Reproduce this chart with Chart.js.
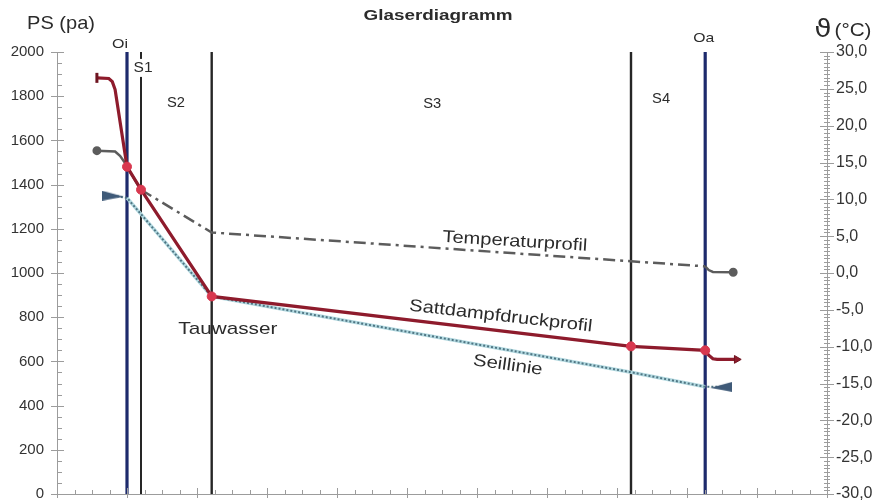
<!DOCTYPE html>
<html>
<head>
<meta charset="utf-8">
<script src="https://cdn.jsdelivr.net/npm/chart.js@4.4.1/dist/chart.umd.min.js"></script>
<style>
  html, body { margin: 0; padding: 0; background: #fff; }
  #wrap { width: 887px; height: 502px; position: relative; }
</style>
</head>
<body>
<div id="wrap"><canvas id="chart"></canvas></div>
<script>
// --- data ---
// layer boundaries: Oi, S1|S2, S2|S3, S3|S4, Oa
const layerX = [1.0, 1.2, 2.21, 8.2, 9.26];
const layerKind = ['surface', 'joint', 'joint', 'joint', 'surface'];

// Sattdampfdruckprofil (Pa)
const satX  = [0.57, 0.74, 0.79, 0.83, 1.0, 1.2, 2.21, 8.2, 9.26, 9.31, 9.37, 9.43, 9.71];
const satPa = [1883, 1880, 1866, 1830, 1481, 1377, 894, 668, 650, 628, 612, 609, 609];

// Temperaturprofil (°C, right axis)
const tempX = [0.57, 0.83, 0.9, 0.96, 1.0, 1.2, 2.21, 9.26, 9.31, 9.37, 9.66];
const tempC = [16.6, 16.5, 15.9, 15.1, 14.4, 11.3, 5.5, 0.9, 0.4, 0.15, 0.1];

// Seillinie / Partialdruck (Pa)
const sdX  = [0.8, 1.0, 2.21, 8.2, 9.26, 9.49];
const sdPa = [1350, 1340, 894, 551, 485, 485];

// axis ticks
const paTicks = { min: 0, max: 2000, step: 200, minor: 50 };
const tTicks = { min: -30, max: 30, step: 5, minor: 0.5 };
const xTicks = { min: 0, max: 11, step: 1, minor: 0.25 };

const FONT = "'Liberation Sans', Arial, sans-serif";

const pts = (xs, ys) => xs.map((x, i) => ({ x: x, y: ys[i] }));

// little wedge markers for the Seillinie ends
function wedge(dir) {
    const c = document.createElement('canvas');
    c.width = 22; c.height = 10;
    const g = c.getContext('2d');
    g.fillStyle = '#3f5a78';
    g.beginPath();
    if (dir > 0) { g.moveTo(0, 0); g.lineTo(22, 6); g.lineTo(0, 10); }
    else { g.moveTo(22, 0); g.lineTo(0, 6); g.lineTo(22, 10); }
    g.closePath();
    g.fill();
    return c;
}
const wedgeRight = wedge(1);
const wedgeLeft = wedge(-1);

// --- datasets ---
const datasets = [];

datasets.push({
    label: 'Sattdampfdruckprofil',
    data: pts(satX, satPa),
    yAxisID: 'y',
    borderColor: '#8e1b2c',
    borderWidth: 3.2,
    pointStyle: ctx => ctx.dataIndex === 0 ? 'line' : (ctx.dataIndex === satX.length - 1 ? 'triangle' : 'circle'),
    rotation: 90,
    pointRadius: ctx => {
        const i = ctx.dataIndex;
        if (i === 0) return 5;
        if (i === satX.length - 1) return 4.5;
        return layerX.includes(satX[i]) ? 4.5 : 0;
    },
    pointBackgroundColor: ctx => (ctx.dataIndex === 0 || ctx.dataIndex === satX.length - 1) ? '#8e1b2c' : '#d8384f',
    pointBorderColor: ctx => (ctx.dataIndex === 0 || ctx.dataIndex === satX.length - 1) ? '#6e1420' : '#d8384f',
    pointBorderWidth: ctx => ctx.dataIndex === 0 ? 3 : 1,
    order: 1
});

datasets.push({
    label: 'Temperaturprofil',
    data: pts(tempX, tempC),
    yAxisID: 'y2',
    borderColor: '#5c5c5c',
    borderWidth: 2.5,
    segment: {
        borderDash: ctx => (ctx.p0.parsed.x >= layerX[1] && ctx.p1.parsed.x <= layerX[4]) ? [12, 5, 3, 5] : undefined
    },
    pointRadius: ctx => (ctx.dataIndex === 0 || ctx.dataIndex === tempX.length - 1) ? 3.2 : 0,
    pointBackgroundColor: '#5c5c5c',
    pointBorderColor: '#5c5c5c',
    order: 3
});

// Seillinie: light underlay + dotted line on top
datasets.push({
    label: 'Seillinie',
    data: pts(sdX, sdPa),
    yAxisID: 'y',
    borderColor: '#4f7583',
    borderWidth: 2,
    borderDash: [2, 2],
    pointStyle: ctx => ctx.dataIndex === 0 ? wedgeRight : (ctx.dataIndex === sdX.length - 1 ? wedgeLeft : 'circle'),
    pointRadius: ctx => (ctx.dataIndex === 0 || ctx.dataIndex === sdX.length - 1) ? 6 : 0,
    order: 4
});
datasets.push({
    label: 'Seillinie-Grund',
    data: pts(sdX.slice(1, -1), sdPa.slice(1, -1)),
    yAxisID: 'y',
    borderColor: '#b3d9e0',
    borderWidth: 3.5,
    pointRadius: 0,
    order: 5
});

// layer boundary lines
layerX.forEach((lx, i) => {
    datasets.push({
        label: 'Grenze ' + i,
        data: [{ x: lx, y: 0 }, { x: lx, y: 2000 }],
        yAxisID: 'y',
        borderColor: layerKind[i] === 'surface' ? '#1d2a6c' : '#262626',
        borderWidth: layerKind[i] === 'surface' ? 3.2 : (i === 1 ? 2 : 2.4),
        pointRadius: 0,
        order: 10
    });
});

// --- axis decoration: minor/major tick marks and texts ---
function drawFit(ctx, text, x, y, w, font, angle, color) {
    ctx.save();
    ctx.font = font;
    const m = ctx.measureText(text).width;
    ctx.translate(x, y);
    ctx.rotate(angle * Math.PI / 180);
    ctx.scale(w / m, 1);
    ctx.textAlign = 'center';
    ctx.textBaseline = 'middle';
    ctx.fillStyle = color;
    ctx.fillText(text, 0, 0);
    ctx.restore();
}

const decoPlugin = {
    id: 'deco',
    afterDraw(chart) {
        const ctx = chart.ctx;
        const xs = chart.scales.x, ys = chart.scales.y, ts = chart.scales.y2;
        const area = chart.chartArea;

        ctx.save();
        ctx.strokeStyle = '#9c9c9c';
        ctx.lineWidth = 1;
        ctx.beginPath();
        // left axis
        for (let v = paTicks.min; v <= paTicks.max + 0.01; v += paTicks.minor) {
            const y = Math.round(ys.getPixelForValue(v)) + 0.5;
            const major = Math.abs(v % paTicks.step) < 0.01;
            ctx.moveTo(major ? area.left - 6 : area.left, y);
            ctx.lineTo(area.left + (major ? 7 : 5), y);
        }
        // right axis
        for (let v = tTicks.min; v <= tTicks.max + 0.01; v += tTicks.minor) {
            const y = Math.round(ts.getPixelForValue(v)) + 0.5;
            const major = Math.abs(Math.round(v * 10) % (tTicks.step * 10)) < 0.01;
            ctx.moveTo(area.right - (major ? 7 : 3), y);
            ctx.lineTo(area.right + (major ? 7 : 3), y);
        }
        // bottom axis
        for (let v = xTicks.min; v <= xTicks.max + 0.01; v += xTicks.minor) {
            const x = Math.round(xs.getPixelForValue(v)) + 0.5;
            const major = Math.abs(v - Math.round(v)) < 0.01;
            ctx.moveTo(x, area.bottom - (major ? 6 : 4));
            ctx.lineTo(x, area.bottom + (major ? 4 : 1));
        }
        ctx.stroke();
        ctx.restore();

        const ink = '#2b2b2b';
        // titles
        drawFit(ctx, 'Glaserdiagramm', 438, 16, 149, 'bold 15px ' + FONT, 0, ink);
        drawFit(ctx, 'PS (pa)', 61, 24, 68, '19px ' + FONT, 0, ink);
        drawFit(ctx, '\u03D1', 823, 30, 17, '25px DejaVu Sans, sans-serif', 0, ink);
        drawFit(ctx, '(\u00B0C)', 853, 31, 37, '18px ' + FONT, 0, ink);

        // layer names
        const px = v => xs.getPixelForValue(v);
        const py = v => ys.getPixelForValue(v);
        drawFit(ctx, 'Oi', px(0.9), py(2036), 16, '13px ' + FONT, 0, ink);
        drawFit(ctx, 'Oa', px(9.24), py(2063), 21, '13px ' + FONT, 0, ink);
        ctx.save();
        ctx.fillStyle = '#fff';
        ctx.fillRect(px(1.2) - 3, py(1928) - 9, 6, 18);
        ctx.restore();
        drawFit(ctx, 'S1', px(1.23), py(1928), 19, '14px ' + FONT, 0, ink);
        drawFit(ctx, 'S2', px(1.7), py(1770), 18, '14px ' + FONT, 0, ink);
        drawFit(ctx, 'S3', px(5.36), py(1765), 18, '14px ' + FONT, 0, ink);
        drawFit(ctx, 'S4', px(8.63), py(1788), 18, '14px ' + FONT, 0, ink);

        // curve captions
        drawFit(ctx, 'Tauwasser', px(2.44), py(745), 99, '17px ' + FONT, 0, ink);
        drawFit(ctx, 'Temperaturprofil', px(6.54), py(1142), 145, '17px ' + FONT, 3.5, ink);
        drawFit(ctx, 'Sattdampfdruckprofil', px(6.34), py(804), 184, '17px ' + FONT, 6.5, ink);
        drawFit(ctx, 'Seillinie', px(6.44), py(582), 70, '17px ' + FONT, 8, ink);
    }
};

const axisBorder = { display: true, color: '#9c9c9c', width: 1 };

new Chart(document.getElementById('chart'), {
    type: 'scatter',
    data: { datasets: datasets.map(d => Object.assign({ showLine: true, tension: 0, fill: false }, d)) },
    options: {
        responsive: true,
        maintainAspectRatio: false,
        animation: false,
        layout: { padding: { top: 52, left: 0, right: 0, bottom: 0 } },
        plugins: { legend: { display: false }, tooltip: { enabled: false } },
        scales: {
            x: {
                type: 'linear',
                min: xTicks.min, max: xTicks.max,
                grid: { display: false },
                border: axisBorder,
                ticks: { display: false },
                afterFit: s => { s.height = 7; }
            },
            y: {
                position: 'left',
                min: paTicks.min, max: paTicks.max,
                grid: { display: false, drawTicks: false },
                border: axisBorder,
                ticks: {
                    stepSize: paTicks.step,
                    padding: 13,
                    color: '#333',
                    font: { family: FONT, size: 15 },
                    callback: v => String(v)
                },
                afterFit: s => { s.width = 57; s.paddingTop = 0; s.paddingBottom = 0; }
            },
            y2: {
                position: 'right',
                min: tTicks.min, max: tTicks.max,
                grid: { display: false, drawTicks: false },
                border: axisBorder,
                ticks: {
                    stepSize: tTicks.step,
                    padding: 9,
                    color: '#333',
                    font: { family: FONT, size: 16 },
                    callback: v => v.toFixed(1).replace('.', ',')
                },
                afterFit: s => { s.width = 60; s.paddingTop = 0; s.paddingBottom = 0; }
            }
        }
    },
    plugins: [decoPlugin]
});
</script>
</body>
</html>
